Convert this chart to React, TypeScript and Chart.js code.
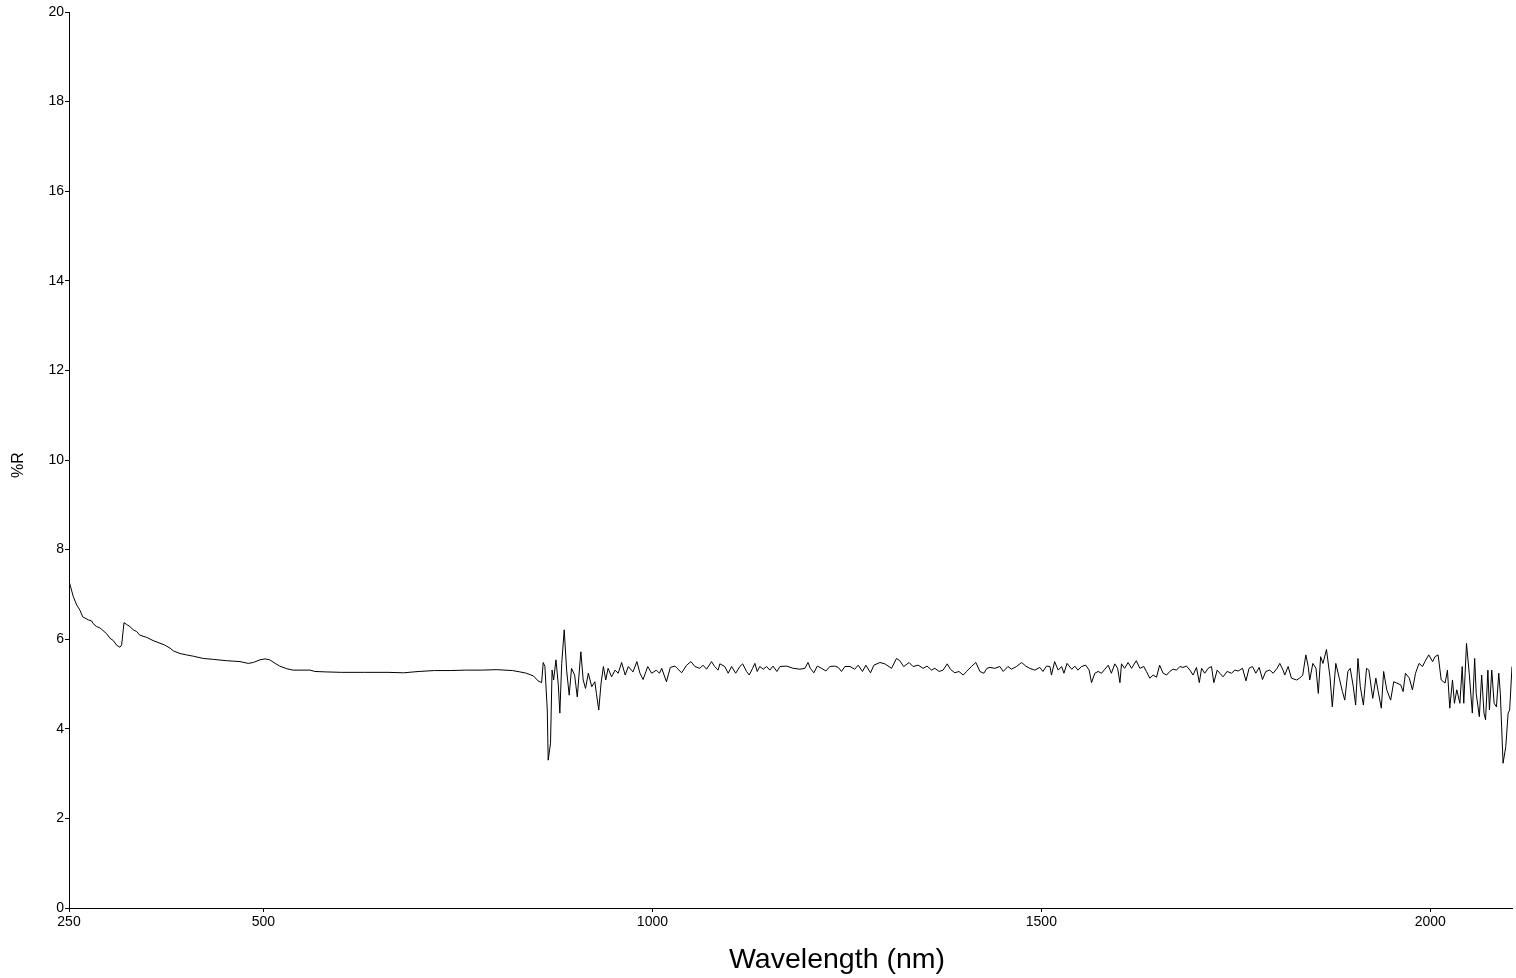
import React, { useEffect, useRef } from 'react';
import { Chart, registerables } from 'chart.js';

Chart.register(...registerables);

const X_TITLE = 'Wavelength (nm)';
const Y_TITLE = '%R';
const X_MIN = 250;
const X_MAX = 2105;
const X_TICKS = [250, 500, 1000, 1500, 2000];
const Y_MIN = 0;
const Y_MAX = 20;
const Y_STEP = 2;

const WAVELENGTH_NM = [
  250, 255.5, 260, 264, 267.6, 275, 279, 281, 285.6, 289,
  292, 298.5, 302.7, 307, 311, 315.5, 317.7, 320.7, 324, 328.4,
  332.6, 337, 341, 350, 358, 367, 373, 380, 384, 392.7,
  401, 410, 422.6, 435.5, 452.7, 469.8, 480.5, 487, 495.5, 502,
  508, 515, 521, 530, 538, 560, 566, 580, 600, 630,
  660, 680, 700, 720, 740, 760, 780, 800, 820, 829.7,
  838, 847, 853, 857.6, 859.6, 861.8, 864.8, 866, 869, 871,
  873, 876, 879, 881, 883.4, 886.6, 889.7, 893, 896, 900,
  903.4, 908, 911, 914, 917.6, 922, 926, 928, 931, 934,
  937, 940, 943, 947.5, 952, 956, 960.4, 965, 969, 975,
  980, 984, 988, 994, 999, 1005, 1009, 1012, 1018, 1023,
  1029, 1037.5, 1044, 1049.5, 1054.6, 1061, 1065, 1069.6, 1076, 1080,
  1084.5, 1086.7, 1093, 1097.4, 1101.8, 1107, 1112.4, 1116, 1121, 1124.4,
  1128.8, 1131.7, 1134.7, 1138, 1142.4, 1146.8, 1151, 1155, 1160, 1164,
  1172.5, 1181, 1189.6, 1196, 1200, 1203, 1207.5, 1212, 1217.5, 1223,
  1228, 1234.5, 1239, 1243, 1247.4, 1254, 1260, 1264.5, 1270, 1274.4,
  1280.4, 1284.7, 1292.4, 1298.8, 1307.4, 1313.8, 1318, 1323, 1330, 1335,
  1341.6, 1348, 1353, 1358.8, 1363, 1368.6, 1373.7, 1379, 1383, 1388.8,
  1394, 1399.5, 1403.8, 1410, 1415.8, 1421, 1426, 1430, 1434, 1440,
  1446.6, 1451, 1457, 1461.6, 1468, 1474.5, 1480, 1485, 1491.6, 1498,
  1502, 1506.6, 1511, 1513, 1517, 1521.6, 1526, 1529, 1533, 1539,
  1543, 1547, 1551.6, 1557, 1561.4, 1564.5, 1568.7, 1573, 1577.3, 1581.6,
  1586, 1590, 1594.4, 1598, 1601, 1603, 1607, 1611.5, 1616, 1622,
  1626.6, 1631.7, 1635, 1639.4, 1643.7, 1648, 1652, 1656.5, 1661, 1665,
  1669.4, 1673.7, 1678, 1682, 1686.6, 1691, 1695, 1699.4, 1703, 1706,
  1710, 1714.4, 1718.7, 1721.7, 1726, 1729.4, 1733.6, 1738.8, 1744.4, 1748.7,
  1753, 1758.6, 1763, 1767, 1771.4, 1775.7, 1780, 1784.3, 1788.5, 1793.6,
  1798, 1803, 1806.5, 1810.7, 1812.9, 1817.2, 1821.5, 1828, 1832, 1836,
  1840, 1843, 1845, 1849, 1853, 1856, 1859, 1862, 1866.5, 1871,
  1874, 1878.5, 1883, 1887, 1890, 1894, 1897, 1901, 1904, 1907,
  1910, 1914, 1918, 1921, 1926, 1930, 1933, 1937, 1940, 1944,
  1949, 1953, 1957, 1962, 1965, 1968, 1973, 1977, 1981, 1985.5,
  1990, 1993, 1998, 2003, 2006, 2010, 2014, 2019, 2022, 2025,
  2028.5, 2031, 2034, 2038, 2041, 2043, 2046.5, 2050, 2054, 2057,
  2059, 2063, 2066, 2069, 2071, 2074, 2076, 2079, 2082, 2085,
  2088, 2090, 2093.5, 2097, 2100, 2102, 2105,
];

const REFLECTANCE_PCT = [
  7.30, 6.95, 6.76, 6.65, 6.50, 6.43, 6.41, 6.35, 6.28, 6.26,
  6.22, 6.12, 6.02, 5.97, 5.87, 5.82, 5.87, 6.37, 6.33, 6.28,
  6.21, 6.17, 6.09, 6.04, 5.97, 5.91, 5.87, 5.80, 5.74, 5.68,
  5.65, 5.62, 5.57, 5.55, 5.52, 5.50, 5.46, 5.48, 5.54, 5.56,
  5.54, 5.46, 5.40, 5.34, 5.31, 5.31, 5.28, 5.27, 5.26, 5.26,
  5.26, 5.25, 5.28, 5.30, 5.30, 5.31, 5.31, 5.32, 5.30, 5.27,
  5.24, 5.18, 5.07, 5.03, 5.48, 5.39, 4.42, 3.30, 3.68, 5.31,
  5.09, 5.54, 4.98, 4.35, 5.46, 6.21, 5.31, 4.75, 5.35, 5.20,
  4.71, 5.72, 5.09, 4.90, 5.24, 4.94, 5.05, 4.79, 4.42, 5.02,
  5.39, 5.09, 5.35, 5.16, 5.31, 5.24, 5.48, 5.20, 5.39, 5.27,
  5.50, 5.24, 5.10, 5.39, 5.24, 5.31, 5.24, 5.35, 5.05, 5.37,
  5.40, 5.25, 5.42, 5.50, 5.39, 5.35, 5.42, 5.33, 5.50, 5.39,
  5.31, 5.45, 5.39, 5.24, 5.39, 5.24, 5.39, 5.45, 5.28, 5.20,
  5.35, 5.46, 5.28, 5.39, 5.33, 5.39, 5.31, 5.40, 5.28, 5.39,
  5.40, 5.35, 5.33, 5.35, 5.48, 5.35, 5.25, 5.40, 5.35, 5.29,
  5.39, 5.40, 5.37, 5.28, 5.39, 5.39, 5.33, 5.42, 5.28, 5.42,
  5.25, 5.42, 5.48, 5.45, 5.35, 5.57, 5.52, 5.39, 5.48, 5.39,
  5.42, 5.35, 5.40, 5.31, 5.35, 5.28, 5.31, 5.45, 5.33, 5.25,
  5.28, 5.20, 5.28, 5.39, 5.48, 5.28, 5.24, 5.35, 5.37, 5.35,
  5.39, 5.28, 5.39, 5.33, 5.39, 5.48, 5.40, 5.35, 5.31, 5.37,
  5.28, 5.40, 5.39, 5.20, 5.50, 5.31, 5.39, 5.24, 5.46, 5.33,
  5.40, 5.31, 5.39, 5.42, 5.31, 5.03, 5.24, 5.28, 5.24, 5.33,
  5.42, 5.24, 5.45, 5.35, 5.03, 5.45, 5.35, 5.48, 5.35, 5.52,
  5.35, 5.39, 5.28, 5.13, 5.20, 5.15, 5.42, 5.24, 5.20, 5.28,
  5.33, 5.31, 5.39, 5.37, 5.40, 5.31, 5.20, 5.37, 5.03, 5.35,
  5.24, 5.35, 5.39, 5.03, 5.31, 5.24, 5.16, 5.28, 5.24, 5.31,
  5.29, 5.35, 5.07, 5.35, 5.39, 5.24, 5.37, 5.10, 5.28, 5.31,
  5.24, 5.35, 5.46, 5.31, 5.20, 5.39, 5.13, 5.09, 5.13, 5.20,
  5.65, 5.39, 5.09, 5.46, 5.35, 4.79, 5.61, 5.46, 5.77, 5.16,
  4.49, 5.46, 5.13, 4.83, 4.64, 5.28, 5.35, 4.94, 4.53, 5.57,
  4.94, 4.53, 5.35, 5.31, 4.68, 5.13, 4.83, 4.46, 5.28, 4.87,
  4.64, 5.05, 5.02, 4.98, 4.83, 5.24, 5.13, 4.87, 5.24, 5.46,
  5.39, 5.50, 5.65, 5.50, 5.61, 5.65, 5.09, 5.02, 5.31, 4.46,
  5.09, 4.57, 4.87, 4.57, 5.39, 4.57, 5.91, 5.24, 4.35, 5.57,
  4.79, 4.27, 5.20, 4.35, 4.20, 5.31, 4.42, 5.31, 4.57, 4.49,
  5.24, 4.79, 3.23, 3.60, 4.35, 4.42, 5.39,
];

const TICK_FONT = { family: '"Liberation Sans Narrow", "Arial Narrow", "Liberation Sans", Arial, sans-serif', size: 14 };

const titlesPlugin = {
  id: 'customTitles',
  afterDraw(chart: any) {
    const ctx = chart.ctx;
    ctx.save();
    ctx.fillStyle = '#000';
    ctx.font = '28.5px "Liberation Sans", Arial, sans-serif';
    ctx.textAlign = 'center';
    ctx.textBaseline = 'alphabetic';
    ctx.fillText(X_TITLE, 837, 968);
    ctx.font = '16px "Liberation Sans", Arial, sans-serif';
    ctx.translate(19, 465);
    ctx.rotate(-Math.PI / 2);
    ctx.textBaseline = 'middle';
    ctx.fillText(Y_TITLE, 0, 0);
    ctx.restore();
  },
};

export default function App() {
  const canvasRef = useRef<HTMLCanvasElement | null>(null);

  useEffect(() => {
    const canvas = canvasRef.current;
    if (!canvas) return;
    const points = WAVELENGTH_NM.map((w, i) => ({ x: w, y: REFLECTANCE_PCT[i] }));
    const chart = new Chart(canvas, {
      type: 'line',
      data: {
        datasets: [
          {
            data: points,
            borderColor: '#000',
            borderWidth: 1,
            pointRadius: 0,
            fill: false,
            tension: 0,
          },
        ],
      },
      plugins: [titlesPlugin],
      options: {
        animation: false,
        responsive: false,
        devicePixelRatio: 1,
        parsing: false,
        layout: { padding: { left: 0, top: 12, right: 4, bottom: 0 } },
        plugins: {
          legend: { display: false },
          tooltip: { enabled: false },
          title: { display: false },
        },
        scales: {
          x: {
            type: 'linear',
            min: X_MIN,
            max: X_MAX,
            afterBuildTicks: (scale: any) => {
              scale.ticks = X_TICKS.map((v) => ({ value: v }));
            },
            afterFit: (scale: any) => {
              scale.height = 70;
            },
            grid: { display: true, drawOnChartArea: false, drawTicks: true, tickLength: 4, tickColor: '#000', color: '#000' },
            border: { display: true, color: '#000', width: 1 },
            ticks: {
              color: '#000',
              font: TICK_FONT,
              padding: 2,
              maxRotation: 0,
              autoSkip: false,
              callback: (v: any) => String(v),
            },
          },
          y: {
            type: 'linear',
            min: Y_MIN,
            max: Y_MAX,
            afterFit: (scale: any) => {
              scale.width = 69;
            },
            grid: { display: true, drawOnChartArea: false, drawTicks: true, tickLength: 4, tickColor: '#000', color: '#000' },
            border: { display: true, color: '#000', width: 1 },
            ticks: {
              color: '#000',
              font: TICK_FONT,
              padding: 1,
              stepSize: Y_STEP,
              callback: (v: any) => String(v),
            },
          },
        },
      },
    });
    return () => chart.destroy();
  }, []);

  return (
    <div style={{ position: 'fixed', left: 0, top: 0, width: 1516, height: 978, background: '#fff' }}>
      <canvas ref={canvasRef} width={1516} height={978} style={{ display: 'block', width: 1516, height: 978 }} />
    </div>
  );
}
